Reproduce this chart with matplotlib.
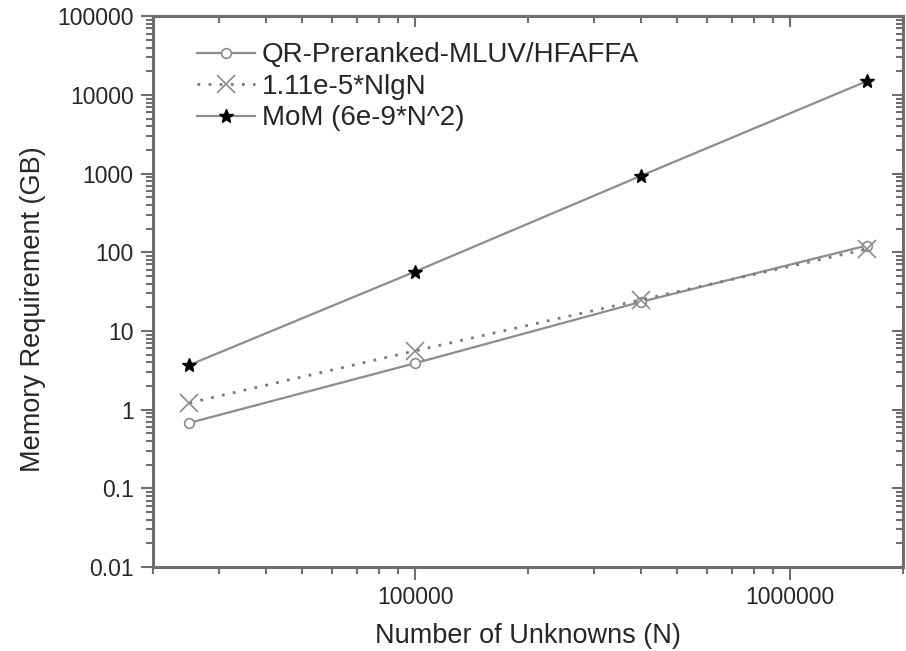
import numpy as np
import matplotlib
matplotlib.use('Agg')
import matplotlib.pyplot as plt
from matplotlib.ticker import LogLocator, FixedLocator, FuncFormatter, NullFormatter

plt.rcParams['font.family'] = ['Liberation Sans', 'DejaVu Sans']

# problem sizes and memory (GB)
n_unknowns = [25000, 100000, 400000, 1600000]
mem_qr = [0.68, 3.9, 23.5, 122]
mem_nlogn = [1.22, 5.6, 24.9, 110]
mem_mom = [3.7, 57, 940, 15000]

x_ticks = [100000, 1000000]
y_ticks = [0.01, 0.1, 1, 10, 100, 1000, 10000, 100000]

grey = '#8c8c8c'
spine_col = '#6e6e6e'
txt = '#262626'

fig = plt.figure(figsize=(9.06, 6.51), dpi=100)
ax = fig.add_axes([0.169, 0.129, 0.828, 0.846])

ax.plot(n_unknowns, mem_qr, '-', color=grey, lw=1.6, marker='o', ms=7,
        mfc='white', mec=grey, mew=1.2, label='QR-Preranked-MLUV/HFAFFA')
ax.plot(n_unknowns, mem_nlogn, linestyle=(0, (1, 3)), color='#7a7a7a', lw=2,
        marker='x', ms=13, mec=grey, mew=1.2, label='1.11e-5*NlgN')
ax.plot(n_unknowns, mem_mom, '-', color=grey, lw=1.6, marker='*', ms=10.5,
        mfc='black', mec='black', label='MoM (6e-9*N^2)')

ax.set_xscale('log')
ax.set_yscale('log')
ax.set_xlim(20000, 2000000)
ax.set_ylim(0.01, 100000)

fmt = FuncFormatter(lambda v, p: ('%g' % v) if v < 1 else '%d' % round(v))
ax.xaxis.set_major_locator(FixedLocator(x_ticks))
ax.yaxis.set_major_locator(FixedLocator(y_ticks))
ax.xaxis.set_major_formatter(fmt)
ax.yaxis.set_major_formatter(fmt)
for a in (ax.xaxis, ax.yaxis):
    a.set_minor_locator(LogLocator(base=10, subs=np.arange(2, 10), numticks=20))
    a.set_minor_formatter(NullFormatter())

ax.tick_params(which='major', direction='out', length=9, width=1.5,
               color=spine_col, labelsize=16.5, labelcolor=txt, pad=5)
ax.tick_params(which='minor', direction='out', length=5, width=1.5, color=spine_col)

# mirrored ticks pointing inward on top and right
top = ax.secondary_xaxis('top')
right = ax.secondary_yaxis('right')
for sec, a in ((top, top.xaxis), (right, right.yaxis)):
    a.set_major_locator(FixedLocator(x_ticks if sec is top else y_ticks))
    a.set_minor_locator(LogLocator(base=10, subs=np.arange(2, 10), numticks=20))
    a.set_major_formatter(NullFormatter())
    a.set_minor_formatter(NullFormatter())
    sec.tick_params(which='major', direction='in', length=8, width=1.5, color=spine_col)
    sec.tick_params(which='minor', direction='in', length=5, width=1.5, color=spine_col)
    for s in sec.spines.values():
        s.set_color(spine_col)
        s.set_linewidth(2.2)

for s in ax.spines.values():
    s.set_color(spine_col)
    s.set_linewidth(2.2)

ax.set_xlabel('Number of Unknowns (N)', fontsize=19.5, color=txt)
ax.set_ylabel('Memory Requirement (GB)', fontsize=19.5, color=txt)
ax.xaxis.set_label_coords(0.5, -0.102)
ax.yaxis.set_label_coords(-0.143, 0.468)

ax.legend(loc='upper left', bbox_to_anchor=(0.036, 0.983), frameon=False,
          fontsize=20, handlelength=2.1, handletextpad=0.25, labelspacing=0.2,
          borderaxespad=0.2, labelcolor=txt)

fig.savefig('out.png', dpi=100)
